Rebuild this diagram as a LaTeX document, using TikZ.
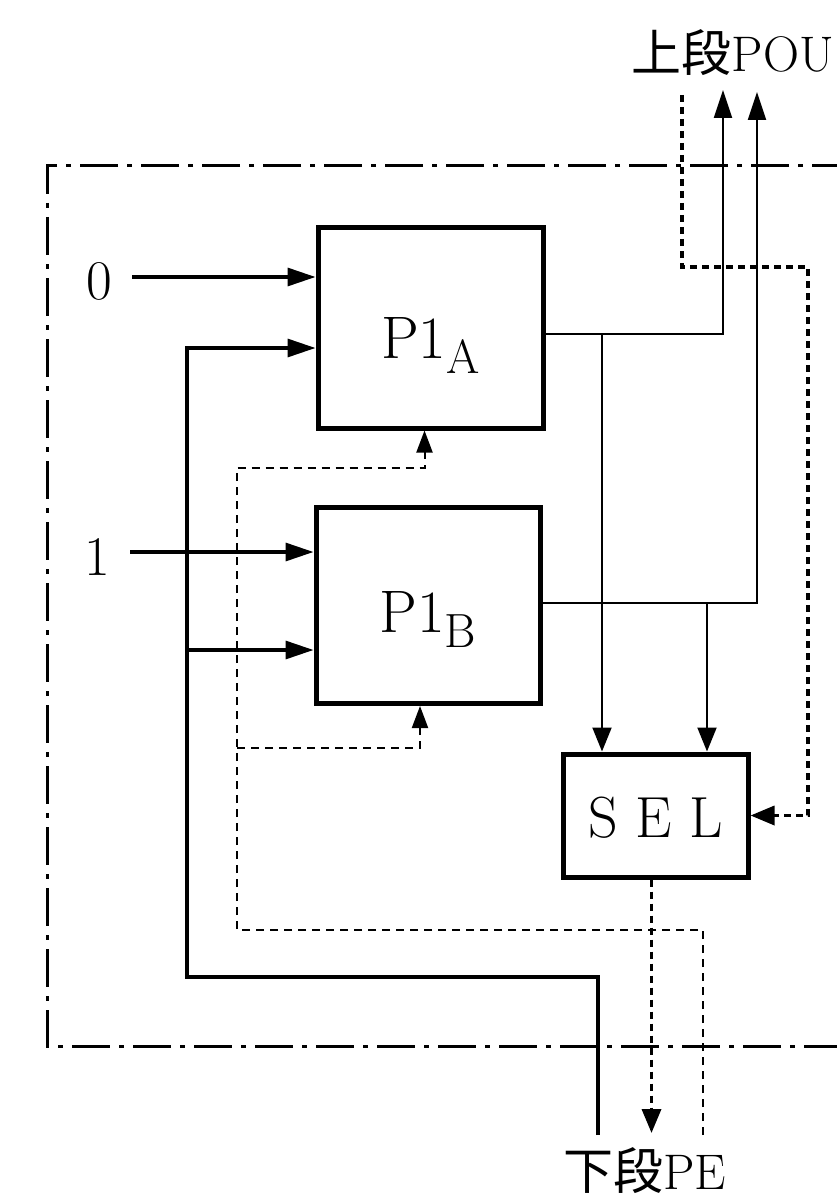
\documentclass[tikz,border=0pt]{standalone}
\usepackage{fontspec}
\newfontfamily\cjk{Noto Sans CJK JP}
\usetikzlibrary{arrows.meta,calc}
\begin{document}
\begin{tikzpicture}[x=1pt,y=-1pt,
  box/.style={draw,line width=5pt,inner sep=0pt},
  lbl/.style={inner sep=0pt,font=\fontsize{56}{56}\selectfont},
  sig/.style={line width=3.2pt},
  outl/.style={line width=2pt},
  dsh/.style={line width=2pt,dash pattern=on 8pt off 6pt},
  dshk/.style={line width=3.5pt,dash pattern=on 7pt off 5pt},
  bnd/.style={line width=3pt,dash pattern=on 38pt off 9pt on 5pt off 9pt},
  tri/.style={-{Triangle[length=28pt,width=18pt]}},
  trim/.style={-{Triangle[length=24pt,width=19pt]}},
  tris/.style={-{Triangle[length=22pt,width=16pt]}}]
\useasboundingbox (0,0) rectangle (836,1198);

% boundary (dash-dot)
\draw[bnd] (850,166) -- (47,166) -- (47,1046) -- (850,1046);

% blocks
\node[box,minimum width=225pt,minimum height=200pt,text height=60pt,text depth=0pt] (PA) at (430.5,328)
  {\fontsize{60}{60}\selectfont P1\raisebox{-15pt}{\fontsize{48}{48}\selectfont A}};
\node[box,minimum width=224pt,minimum height=196pt,text height=54pt,text depth=0pt] (PB) at (428,605.5)
  {\fontsize{60}{60}\selectfont P1\raisebox{-15pt}{\fontsize{48}{48}\selectfont B}};
\node[box,minimum width=185pt,minimum height=123pt,text height=44pt,text depth=0pt] (SEL) at (655.5,815.5)
  {\fontsize{58}{58}\selectfont S E L};

% input labels
\node[lbl,anchor=base] (i0) at (99,299) {0};
\node[lbl,anchor=base] (i1) at (97,575) {1};

% top / bottom labels
\node[anchor=base east,inner sep=0pt] (up) at (834,72)
  {{\cjk\fontsize{50}{50}\selectfont 上段}{\fontsize{50}{50}\selectfont POU}};
\node[anchor=base west,inner sep=0pt] (dn) at (563,1189)
  {{\cjk\fontsize{50}{50}\selectfont 下段}{\fontsize{50}{50}\selectfont PE}};

% helper coordinates
\coordinate (a0) at ($(PA.west)+(0,-51)$);
\coordinate (a1) at ($(PA.west)+(0,20)$);
\coordinate (b0) at ($(PB.west)+(0,-53.5)$);
\coordinate (b1) at ($(PB.west)+(0,44.5)$);
\coordinate (oa) at ($(PA.east)+(0,6)$);
\coordinate (ob) at ($(PB.east)+(0,-2.5)$);
\coordinate (selA) at ($(SEL.north)+(-53.5,0)$);
\coordinate (selB) at ($(SEL.north)+(51.5,0)$);
\coordinate (topA) at (723,90);
\coordinate (topB) at (757,92);
\coordinate (ctop) at (682,95);
\coordinate (cc) at (808,267);
\coordinate (peL) at (598,1135);
\coordinate (lpc) at (187,977);
\coordinate (dq) at (703,1135);
\coordinate (dc) at (237,930);
\coordinate (pas) at ($(PA.south)+(-6,0)$);
\coordinate (pbs) at ($(PB.south)+(-8,0)$);
\coordinate (peA) at ($(SEL.south)+(-4,0)$);

% inputs 0 and 1
\draw[sig,tri] ($(i0.east |- a0)+(20,0)$) -- (a0);
\draw[sig,tri] ($(i1.east |- b0)+(20,0)$) -- (b0);

% loop from lower stage
\draw[sig,tri] (peL) |- (lpc) |- (a1);
\draw[sig,tri] (lpc |- b1) -- (b1);

% outputs
\draw[outl,tri] (oa) -| (topA);
\draw[outl,trim] (oa -| selA) -- (selA);
\draw[outl,tri] (ob) -| (topB);
\draw[outl,trim] (ob -| selB) -- (selB);

% control from upper stage to SEL
\draw[dshk,trim] (ctop) |- (cc) |- (SEL.east);
% SEL to lower stage
\draw[dshk,trim] (peA) -- (peA |- 0,1133);

% dashed control into P1A / P1B
\draw[dsh,tris] (dq) |- (dc) |- ($(pas)+(0,37)$) -- (pas);
\draw[dsh,tris] (dc |- 0,748) -| (pbs);
\end{tikzpicture}
\end{document}
